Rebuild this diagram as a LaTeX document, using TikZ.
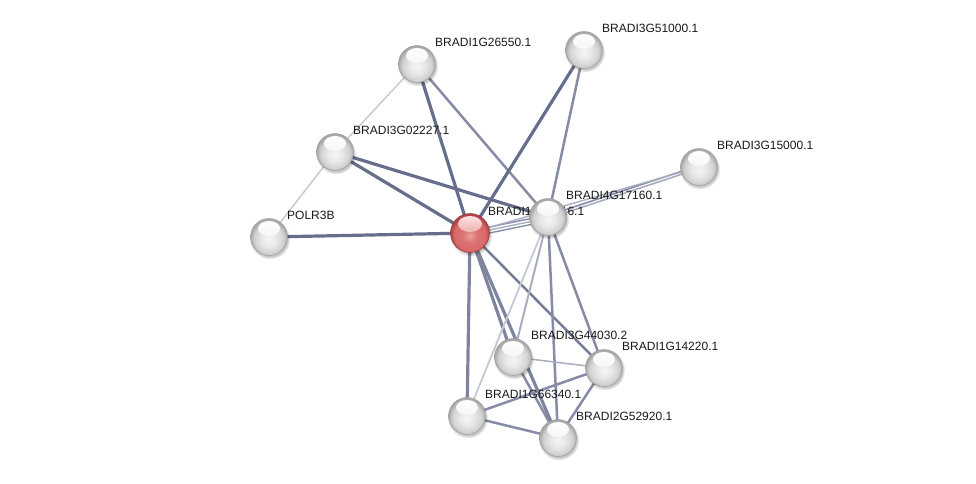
\documentclass[tikz,border=0pt]{standalone}
\usepackage{fontspec}
\setmainfont{Liberation Sans}
\usetikzlibrary{shadows}
\pgfdeclarelayer{edges}
\pgfdeclarelayer{labels}
\pgfsetlayers{edges,labels,main}
\definecolor{edark}{HTML}{676E8C}
\definecolor{emid}{HTML}{868CA6}
\definecolor{elight}{HTML}{A9ADC0}
\definecolor{epale}{HTML}{C4C7D4}
\definecolor{rlight}{HTML}{EE9C9C}
\definecolor{rmid}{HTML}{D86A6A}
\definecolor{rdark}{HTML}{B04444}
\pgfdeclareradialshading{wsphere}{\pgfqpoint{0bp}{-4bp}}{color(0bp)=(black!4); color(10bp)=(black!9); color(20bp)=(black!18); color(25bp)=(black!34); color(50bp)=(black!34)}
\pgfdeclareradialshading{rsphere}{\pgfqpoint{0bp}{-4bp}}{color(0bp)=(rlight); color(10bp)=(rmid!85!rlight); color(20bp)=(rmid); color(25bp)=(rdark); color(50bp)=(rdark)}
\tikzset{
  sph/.style={circle, minimum size=37pt, inner sep=0pt, shading=wsphere, draw=black!38, line width=0.5pt,
    circular drop shadow={shadow xshift=0.8pt, shadow yshift=-1.8pt, opacity=0.22, fill=black},
    path picture={\shade[top color=white, bottom color=black!7] ([yshift=8.5pt]path picture bounding box.center) ellipse (11pt and 7.5pt);}},
  rsph/.style={circle, minimum size=39pt, inner sep=0pt, shading=rsphere, draw=rdark!85!black, line width=0.5pt,
    circular drop shadow={shadow xshift=0.8pt, shadow yshift=-1.8pt, opacity=0.22, fill=black},
    path picture={\shade[top color=red!8!white, bottom color=rmid] ([yshift=9pt]path picture bounding box.center) ellipse (12pt and 8pt);}},
  lab/.style={anchor=base west, inner sep=0pt, text=black!90, font=\fontsize{12}{14}\selectfont},
  ethick/.style={draw=edark, line width=3.2pt},
  emed/.style={draw=emid, line width=2.5pt},
  elig/.style={draw=elight, line width=2pt},
  epal/.style={draw=epale, line width=1.4pt},
}
\newcommand{\nodeLabel}[3]{%
  \node[lab] (#2) at ([xshift=18pt,yshift=18pt]#1.center) {#3};}
\begin{document}
\begin{tikzpicture}[x=1pt, y=-1pt]
\path[use as bounding box] (0,0) rectangle (976,483);
% nodes
\node[rsph] (C) at (470,233) {};
\node[sph] (G17160) at (548,217) {};
\node[sph] (G26550) at (417,64) {};
\node[sph] (G51000) at (584,50) {};
\node[sph] (G02227) at (335,152) {};
\node[sph] (G15000) at (699,167) {};
\node[sph] (POLR3B) at (269,237) {};
\node[sph] (G44030) at (513,357) {};
\node[sph] (G14220) at (604,368) {};
\node[sph] (G66340) at (467,416) {};
\node[sph] (G52920) at (558,438) {};
% labels
\begin{pgfonlayer}{labels}
\nodeLabel{C}{lC}{BRADI1G10816.1}
\nodeLabel{G17160}{l17160}{BRADI4G17160.1}
\nodeLabel{G26550}{l26550}{BRADI1G26550.1}
\nodeLabel{G51000}{l51000}{BRADI3G51000.1}
\nodeLabel{G02227}{l02227}{BRADI3G02227.1}
\nodeLabel{G15000}{l15000}{BRADI3G15000.1}
\nodeLabel{POLR3B}{lPOLR3B}{POLR3B}
\nodeLabel{G44030}{l44030}{BRADI3G44030.2}
\nodeLabel{G14220}{l14220}{BRADI1G14220.1}
\nodeLabel{G66340}{l66340}{BRADI1G66340.1}
\nodeLabel{G52920}{l52920}{BRADI2G52920.1}
\end{pgfonlayer}
% edges
\begin{pgfonlayer}{edges}
\draw[epal] (G26550.center) -- (G02227.center);
\draw[epal] (G02227.center) -- (POLR3B.center);
\draw[ethick] (G26550.center) -- (C.center);
\draw[emed] (G26550.center) -- (G17160.center);
\draw[ethick] (G51000.center) -- (C.center);
\draw[emed] (G51000.center) -- (G17160.center);
\draw[ethick] (G02227.center) -- (C.center);
\draw[ethick] (G02227.center) -- (G17160.center);
\draw[ethick] (POLR3B.center) -- (C.center);
\draw[emed, line width=1.4pt] ([yshift=2pt]C.center) -- ([yshift=2pt]G17160.center);
\draw[elig, line width=1.4pt] ([yshift=-1pt]C.center) -- ([yshift=-1pt]G17160.center);
\draw[emed, line width=1.4pt] ([yshift=-4pt]C.center) -- ([yshift=-4pt]G17160.center);
\draw[emed, line width=1.6pt] ([yshift=1.5pt]G17160.center) -- ([yshift=1.5pt]G15000.center);
\draw[elig, line width=1.6pt] ([yshift=-1.5pt]G17160.center) -- ([yshift=-1.5pt]G15000.center);
\draw[elig, line width=1.4pt] (C.center) -- (G15000.center);
\draw[ethick, draw=edark!85!white] (C.center) -- (G66340.center);
\draw[ethick, draw=edark!85!white] (C.center) -- (G44030.center);
\draw[ethick, draw=edark!85!white] (C.center) -- (G52920.center);
\draw[emed, draw=edark!90!white] (C.center) -- (G14220.center);
\draw[elig] (G17160.center) -- (G44030.center);
\draw[epal, line width=1.8pt] (G17160.center) -- (G66340.center);
\draw[emed] (G17160.center) -- (G52920.center);
\draw[emed] (G17160.center) -- (G14220.center);
\draw[elig, line width=1.5pt] (G44030.center) -- (G14220.center);
\draw[emed] (G44030.center) -- (G52920.center);
\draw[emed] (G66340.center) -- (G14220.center);
\draw[emed] (G66340.center) -- (G52920.center);
\draw[emed] (G14220.center) -- (G52920.center);
\end{pgfonlayer}
\end{tikzpicture}
\end{document}
